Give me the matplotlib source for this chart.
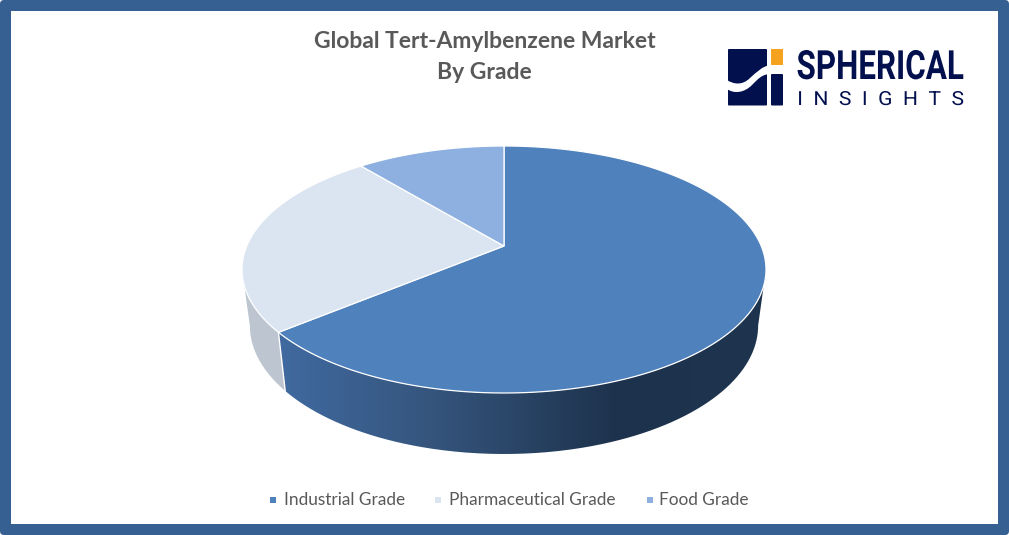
import numpy as np
import matplotlib
matplotlib.use('Agg')
import matplotlib.pyplot as plt
from matplotlib.colors import LinearSegmentedColormap
from matplotlib.patches import Rectangle, PathPatch, FancyBboxPatch
from matplotlib.patheffects import AbstractPathEffect
from matplotlib.path import Path

title_lines = ['Global Tert-Amylbenzene Market', 'By Grade']
categories = ['Industrial Grade', 'Pharmaceutical Grade', 'Food Grade']
shares = [64, 25, 11]
colors = ['#4f81bd', '#dbe5f1', '#8db0e0']

# perspective of the pie disc, in pixels
cx = 504
apex_y = 246
top_y = 146
bottom_y = 393
half_w = 262
floor_y = 454
shrink = 0.97
stretch = 1.04

C = (top_y + bottom_y - 2 * apex_y) / (bottom_y - top_y)
A = top_y * (1 + C) - apex_y
a = half_w * np.sqrt(1 - C ** 2)
# angles where the rim is widest, the wall silhouette starts there
right_angle = np.degrees(np.arccos(-C))
left_angle = 360 - right_angle


def project(angle):
    # angle in degrees clockwise from north
    u = np.sin(np.radians(angle))
    v = np.cos(np.radians(angle))
    d = 1 + C * v
    return cx + a * u / d, (A * v + apex_y) / d


def lower(x, y):
    return cx + (x - cx) * shrink, floor_y - (bottom_y - y) * stretch


class Squeeze(AbstractPathEffect):
    # changes glyph width around one x pixel, there is no condensed font installed
    def __init__(self, x0, sx):
        super().__init__()
        self.x0 = x0
        self.sx = sx

    def draw_path(self, renderer, gc, tpath, affine, rgbFace=None):
        squeezed = affine + matplotlib.transforms.Affine2D().translate(-self.x0, 0).scale(self.sx, 1).translate(self.x0, 0)
        renderer.draw_path(gc, tpath, squeezed, rgbFace)


fig = plt.figure(figsize=(10.09, 5.35), dpi=100, facecolor='white')
ax = fig.add_axes([0, 0, 1, 1])
ax.set_xlim(0, 1009)
ax.set_ylim(535, 0)
ax.axis('off')

ax.add_patch(FancyBboxPatch((3, 3), 1003, 529, boxstyle='round,pad=3,rounding_size=4', fc='#366092', ec='none', zorder=0))
ax.add_patch(Rectangle((11, 11), 987, 513, fc='white', ec='none', zorder=1))

stops = np.cumsum([0] + shares) / sum(shares) * 360

# side walls, only the front part of the rim shows
t = np.linspace(stops[1], left_angle, 200)
x, y = project(t)
xl, yl = lower(x, y)
ax.fill(np.r_[x, xl[::-1]], np.r_[y, yl[::-1]], fc='#bcc5d0', ec='none', zorder=2)

t = np.linspace(right_angle, stops[1], 300)
x, y = project(t)
xl, yl = lower(x, y)
wall = PathPatch(Path(np.column_stack([np.r_[x, xl[::-1]], np.r_[y, yl[::-1]]])), fc='none', ec='none', zorder=2)
ax.add_patch(wall)
ramp = LinearSegmentedColormap.from_list('side', [(0, '#40699f'), (0.08, '#40699f'), (0.36, '#35557d'), (0.72, '#1d324c'), (1, '#1f344e')])
im = ax.imshow(np.linspace(0, 1, 256)[None, :], extent=(cx - half_w, cx + half_w, 535, 0),
               cmap=ramp, aspect='auto', zorder=2.1)
im.set_clip_path(wall)
ax.set_xlim(0, 1009)
ax.set_ylim(535, 0)

# seam between the two visible walls
x0, y0 = project(stops[1])
x1, y1 = lower(x0, y0)
ax.plot([x0, x1], [y0, y1], color='white', lw=1.0, zorder=2.5)

# top faces
for i in range(3):
    t = np.linspace(stops[i], stops[i + 1], 200)
    x, y = project(t)
    ax.fill(np.r_[cx, x], np.r_[apex_y, y], fc=colors[i], ec='white', lw=0.9, zorder=3)

for i, line in enumerate(title_lines):
    ax.text(484.5, 41.5 + i * 31, line, ha='center', va='center', family='Lato', weight='bold',
            fontsize=16.5, color='#595959', zorder=5)

legend_x = [270, 435, 647]
legend_text_x = [284, 449, 659]
for i, name in enumerate(categories):
    ax.add_patch(Rectangle((legend_x[i], 497), 6, 6, fc=colors[i], ec='none', zorder=5))
    ax.text(legend_text_x[i], 500, name, ha='left', va='center', family='Lato', fontsize=12.4,
            color='#595959', zorder=5)

# logo
navy = '#03104e'
ax.add_patch(FancyBboxPatch((729, 50), 37, 54.5, boxstyle='round,pad=1,rounding_size=1', fc=navy, ec='none', zorder=5))
ax.add_patch(FancyBboxPatch((772, 75), 10, 29.5, boxstyle='round,pad=1,rounding_size=1', fc=navy, ec='none', zorder=5))
ax.add_patch(Rectangle((771, 49), 12, 16, fc='#f5a21e', ec='none', zorder=5))
swoosh = Path([(727, 80), (733, 84), (742, 86), (750, 78), (757, 72), (762, 66), (771, 65), (771, 74),
               (762, 74), (758, 79), (752, 85), (744, 93), (734, 94), (727, 89), (727, 80)],
              [Path.MOVETO, Path.CURVE4, Path.CURVE4, Path.CURVE4, Path.CURVE4, Path.CURVE4, Path.CURVE4, Path.LINETO,
               Path.CURVE4, Path.CURVE4, Path.CURVE4, Path.CURVE4, Path.CURVE4, Path.CURVE4, Path.CLOSEPOLY])
ax.add_patch(PathPatch(swoosh, fc='white', ec='none', zorder=6))
ax.text(880, 64, 'SPHERICAL', ha='center', va='center_baseline', family='Roboto', weight='bold',
        fontsize=29, color=navy, zorder=5, path_effects=[Squeeze(880, 0.78)])
ax.text(881, 98, 'I  N  S  I  G  H  T  S', ha='center', va='center_baseline', family='Roboto', fontsize=14,
        color=navy, zorder=5, path_effects=[Squeeze(881, 1.085)])

fig.savefig('out.png', dpi=100)
